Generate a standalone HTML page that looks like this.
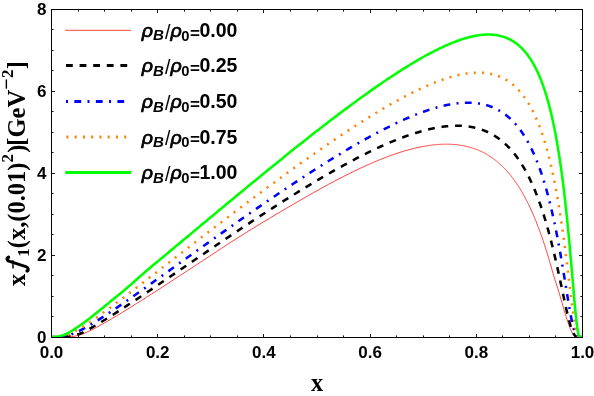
<!DOCTYPE html>
<html><head><meta charset="utf-8"><title>plot</title>
<style>
html,body{margin:0;padding:0;background:#fff;}
body{width:594px;height:396px;overflow:hidden;}
svg{display:block;filter:opacity(1);}
.tk{font-family:"Liberation Sans",sans-serif;font-weight:bold;font-size:17px;fill:#000;}
.lg{font-family:"Liberation Sans",sans-serif;font-weight:bold;font-size:19.5px;fill:#000;}
.ax{font-family:"Liberation Serif",serif;font-weight:bold;font-size:24.5px;fill:#000;}
</style></head><body>
<svg width="594" height="396" viewBox="0 0 594 396">
<rect x="0" y="0" width="594" height="396" fill="#ffffff"/>
<defs><clipPath id="cp"><rect x="51.5" y="9.5" width="531" height="328"/></clipPath></defs>
<g clip-path="url(#cp)" fill="none" stroke-linejoin="round">
<path id="c-red" d="M51.50,337.00 L51.77,337.00 L54.26,337.00 L56.75,337.00 L59.24,336.97 L61.74,336.85 L64.23,336.76 L66.72,336.79 L69.22,336.79 L71.71,336.61 L74.20,336.24 L76.69,335.79 L79.19,335.19 L81.68,334.37 L84.17,333.33 L86.67,332.22 L89.16,331.05 L91.65,329.83 L94.14,328.56 L96.64,327.26 L99.13,325.91 L101.62,324.53 L104.12,323.12 L106.61,321.69 L109.10,320.25 L111.59,318.79 L114.09,317.32 L116.58,315.84 L119.07,314.34 L121.57,312.82 L124.06,311.30 L126.55,309.77 L129.04,308.23 L131.54,306.68 L134.03,305.12 L136.52,303.56 L139.02,301.99 L141.51,300.41 L144.00,298.83 L146.49,297.24 L148.99,295.65 L151.48,294.06 L153.97,292.46 L156.47,290.85 L158.96,289.25 L161.45,287.64 L163.94,286.02 L166.44,284.41 L168.93,282.79 L171.42,281.17 L173.92,279.55 L176.41,277.92 L178.90,276.30 L181.39,274.67 L183.89,273.04 L186.38,271.41 L188.87,269.78 L191.37,268.15 L193.86,266.52 L196.35,264.89 L198.84,263.26 L201.34,261.63 L203.83,259.99 L206.32,258.34 L208.81,256.69 L211.31,255.05 L213.80,253.40 L216.29,251.75 L218.79,250.11 L221.28,248.47 L223.77,246.83 L226.26,245.21 L228.76,243.59 L231.25,241.98 L233.74,240.39 L236.24,238.81 L238.73,237.23 L241.22,235.66 L243.71,234.10 L246.21,232.55 L248.70,231.00 L251.19,229.46 L253.69,227.93 L256.18,226.40 L258.67,224.88 L261.16,223.36 L263.66,221.85 L266.15,220.35 L268.64,218.85 L271.14,217.35 L273.63,215.86 L276.12,214.38 L278.61,212.90 L281.11,211.42 L283.60,209.96 L286.09,208.49 L288.59,207.03 L291.08,205.57 L293.57,204.12 L296.06,202.67 L298.56,201.23 L301.05,199.79 L303.54,198.35 L306.04,196.92 L308.53,195.49 L311.02,194.07 L313.51,192.65 L316.01,191.25 L318.50,189.85 L320.99,188.46 L323.49,187.09 L325.98,185.72 L328.47,184.37 L330.96,183.03 L333.46,181.70 L335.95,180.38 L338.44,179.08 L340.94,177.79 L343.43,176.51 L345.92,175.25 L348.41,174.00 L350.91,172.77 L353.40,171.55 L355.89,170.34 L358.39,169.16 L360.88,167.99 L363.37,166.84 L365.86,165.70 L368.36,164.59 L370.85,163.49 L373.34,162.42 L375.84,161.37 L378.33,160.34 L380.82,159.33 L383.31,158.35 L385.81,157.38 L388.30,156.44 L390.79,155.53 L393.29,154.64 L395.78,153.78 L398.27,152.95 L400.76,152.14 L403.26,151.37 L405.75,150.63 L408.24,149.92 L410.74,149.25 L413.23,148.61 L415.72,148.01 L418.21,147.45 L420.71,146.93 L423.20,146.45 L423.66,146.37 L424.11,146.28 L424.57,146.20 L425.02,146.12 L425.48,146.05 L425.93,145.97 L426.39,145.89 L426.85,145.82 L427.30,145.75 L427.76,145.68 L428.21,145.61 L428.67,145.54 L429.12,145.47 L429.58,145.41 L430.04,145.35 L430.49,145.29 L430.95,145.23 L431.40,145.17 L431.86,145.11 L432.31,145.05 L432.77,145.00 L433.23,144.95 L433.68,144.90 L434.14,144.85 L434.59,144.80 L435.05,144.76 L435.50,144.71 L435.96,144.67 L436.41,144.63 L436.87,144.59 L437.33,144.55 L437.78,144.52 L438.24,144.48 L438.69,144.45 L439.15,144.42 L439.60,144.39 L440.06,144.36 L440.52,144.34 L440.97,144.32 L441.43,144.29 L441.88,144.28 L442.34,144.26 L442.79,144.24 L443.25,144.23 L443.71,144.22 L444.16,144.21 L444.62,144.20 L445.07,144.19 L445.53,144.19 L445.98,144.18 L446.44,144.18 L446.90,144.19 L447.35,144.19 L447.81,144.19 L448.26,144.20 L448.72,144.21 L449.17,144.22 L449.63,144.24 L450.09,144.25 L450.54,144.27 L451.00,144.29 L451.45,144.32 L451.91,144.34 L452.36,144.37 L452.82,144.40 L453.28,144.43 L453.73,144.46 L454.19,144.50 L454.64,144.53 L455.10,144.58 L455.55,144.62 L456.01,144.66 L456.47,144.71 L456.92,144.76 L457.38,144.81 L457.83,144.87 L458.29,144.93 L458.74,144.98 L459.20,145.05 L459.65,145.11 L460.11,145.18 L460.57,145.25 L461.02,145.32 L461.48,145.40 L461.93,145.47 L462.39,145.55 L462.84,145.64 L463.30,145.72 L463.76,145.81 L464.21,145.90 L464.67,146.00 L465.12,146.09 L465.58,146.19 L466.03,146.29 L466.49,146.40 L466.95,146.51 L467.40,146.62 L467.86,146.73 L468.31,146.85 L468.77,146.97 L469.22,147.09 L469.68,147.22 L470.14,147.34 L470.59,147.48 L471.05,147.61 L471.50,147.75 L471.96,147.89 L472.41,148.03 L472.87,148.18 L473.33,148.33 L473.78,148.49 L474.24,148.65 L474.69,148.81 L475.15,148.97 L475.60,149.14 L476.06,149.31 L476.52,149.48 L476.97,149.66 L477.43,149.84 L477.88,150.03 L478.34,150.22 L478.79,150.41 L479.25,150.61 L479.71,150.81 L480.16,151.01 L480.62,151.22 L481.07,151.43 L481.53,151.64 L481.98,151.86 L482.44,152.09 L482.89,152.31 L483.35,152.54 L483.81,152.78 L484.26,153.02 L484.72,153.26 L485.17,153.51 L485.63,153.76 L486.08,154.02 L486.54,154.28 L487.00,154.54 L487.45,154.81 L487.91,155.08 L488.36,155.36 L488.82,155.64 L489.27,155.93 L489.73,156.22 L490.19,156.52 L490.64,156.82 L491.10,157.12 L491.55,157.43 L492.01,157.75 L492.46,158.07 L492.92,158.39 L493.38,158.72 L493.83,159.06 L494.29,159.40 L494.74,159.74 L495.20,160.09 L495.65,160.45 L496.11,160.81 L496.57,161.17 L497.02,161.54 L497.48,161.92 L497.93,162.30 L498.39,162.69 L498.84,163.08 L499.30,163.48 L499.76,163.89 L500.21,164.30 L500.67,164.71 L501.12,165.14 L501.58,165.57 L502.03,166.00 L502.49,166.44 L502.95,166.89 L503.40,167.34 L503.86,167.80 L504.31,168.26 L504.77,168.74 L505.22,169.22 L505.68,169.70 L506.13,170.19 L506.59,170.69 L507.05,171.20 L507.50,171.71 L507.96,172.23 L508.41,172.75 L508.87,173.29 L509.32,173.83 L509.78,174.38 L510.24,174.93 L510.69,175.49 L511.15,176.06 L511.60,176.64 L512.06,177.23 L512.51,177.82 L512.97,178.42 L513.43,179.03 L513.88,179.65 L514.34,180.27 L514.79,180.91 L515.25,181.55 L515.70,182.20 L516.16,182.86 L516.62,183.52 L517.07,184.20 L517.53,184.88 L517.98,185.58 L518.44,186.28 L518.89,186.99 L519.35,187.71 L519.81,188.44 L520.26,189.18 L520.72,189.93 L521.17,190.68 L521.63,191.45 L522.08,192.23 L522.54,193.02 L523.00,193.81 L523.45,194.62 L523.91,195.44 L524.36,196.26 L524.82,197.10 L525.27,197.95 L525.73,198.81 L526.19,199.68 L526.64,200.56 L527.10,201.45 L527.55,202.36 L528.01,203.27 L528.46,204.19 L528.92,205.13 L529.37,206.08 L529.83,207.04 L530.29,208.01 L530.74,208.99 L531.20,209.99 L531.65,211.00 L532.11,212.02 L532.56,213.05 L533.02,214.09 L533.48,215.15 L533.93,216.22 L534.39,217.30 L534.84,218.40 L535.30,219.51 L535.75,220.63 L536.21,221.77 L536.67,222.91 L537.12,224.08 L537.58,225.25 L538.03,226.44 L538.49,227.64 L538.94,228.86 L539.40,230.09 L539.86,231.33 L540.31,232.59 L540.77,233.86 L541.22,235.15 L541.68,236.45 L542.13,237.76 L542.59,239.09 L543.05,240.43 L543.50,241.79 L543.96,243.16 L544.41,244.55 L544.87,245.95 L545.32,247.36 L545.78,248.79 L546.24,250.23 L546.69,251.69 L547.15,253.16 L547.60,254.64 L548.06,256.14 L548.51,257.65 L548.97,259.18 L549.43,260.72 L549.88,262.27 L550.34,263.83 L550.79,265.41 L551.25,267.00 L551.70,268.60 L552.16,270.21 L552.61,271.83 L553.07,273.46 L553.53,275.11 L554.02,276.76 L554.53,278.42 L555.06,280.09 L555.59,281.77 L556.14,283.45 L556.69,285.14 L557.24,286.84 L557.78,288.53 L558.30,290.23 L558.81,291.94 L559.32,293.64 L559.83,295.34 L560.34,297.04 L560.84,298.74 L561.34,300.43 L561.84,302.11 L562.33,303.78 L562.81,305.44 L563.29,307.09 L563.76,308.72 L564.23,310.34 L564.70,311.93 L565.17,313.50 L565.64,315.05 L566.10,316.57 L566.56,318.05 L567.03,319.50 L567.48,320.91 L567.94,322.28 L568.39,323.60 L568.83,324.88 L569.27,326.10 L569.70,327.27 L570.13,328.38 L570.56,329.43 L570.98,330.41 L571.41,331.33 L571.84,332.17 L572.25,332.94 L572.66,333.64 L573.06,334.27 L573.46,334.82 L573.87,335.30 L574.28,335.70 L574.70,336.04 L575.13,336.31 L575.56,336.53 L575.99,336.69 L576.44,336.81 L576.88,336.89 L577.33,336.94 L577.78,336.97 L578.24,336.99 L578.69,337.00 L579.15,337.00 L579.60,337.00 L580.06,337.00 L580.51,337.00 L580.97,337.00 L581.43,337.00 L581.88,337.00 L582.34,337.00 L582.79,337.00 L582.50,337.00" stroke="#ff0000" stroke-width="0.75"/>
<path id="c-black" d="M51.50,337.00 L51.77,337.00 L54.26,337.00 L56.75,337.00 L59.24,336.96 L61.74,336.83 L64.23,336.66 L66.72,336.51 L69.22,336.28 L71.71,335.89 L74.20,335.35 L76.69,334.74 L79.19,333.99 L81.68,333.04 L84.17,331.87 L86.67,330.57 L89.16,329.17 L91.65,327.72 L94.14,326.26 L96.64,324.79 L99.13,323.30 L101.62,321.78 L104.12,320.25 L106.61,318.71 L109.10,317.15 L111.59,315.59 L114.09,314.01 L116.58,312.41 L119.07,310.81 L121.57,309.19 L124.06,307.57 L126.55,305.94 L129.04,304.30 L131.54,302.66 L134.03,301.01 L136.52,299.35 L139.02,297.69 L141.51,296.02 L144.00,294.35 L146.49,292.68 L148.99,291.00 L151.48,289.32 L153.97,287.63 L156.47,285.95 L158.96,284.26 L161.45,282.57 L163.94,280.87 L166.44,279.18 L168.93,277.48 L171.42,275.78 L173.92,274.08 L176.41,272.39 L178.90,270.69 L181.39,268.99 L183.89,267.29 L186.38,265.59 L188.87,263.89 L191.37,262.18 L193.86,260.48 L196.35,258.78 L198.84,257.08 L201.34,255.39 L203.83,253.69 L206.32,251.99 L208.81,250.30 L211.31,248.61 L213.80,246.92 L216.29,245.23 L218.79,243.54 L221.28,241.86 L223.77,240.18 L226.26,238.51 L228.76,236.83 L231.25,235.16 L233.74,233.49 L236.24,231.83 L238.73,230.17 L241.22,228.52 L243.71,226.87 L246.21,225.22 L248.70,223.57 L251.19,221.93 L253.69,220.30 L256.18,218.66 L258.67,217.04 L261.16,215.41 L263.66,213.79 L266.15,212.18 L268.64,210.56 L271.14,208.96 L273.63,207.36 L276.12,205.76 L278.61,204.17 L281.11,202.59 L283.60,201.01 L286.09,199.44 L288.59,197.87 L291.08,196.31 L293.57,194.75 L296.06,193.21 L298.56,191.67 L301.05,190.13 L303.54,188.61 L306.04,187.09 L308.53,185.58 L311.02,184.08 L313.51,182.58 L316.01,181.10 L318.50,179.62 L320.99,178.15 L323.49,176.69 L325.98,175.25 L328.47,173.81 L330.96,172.38 L333.46,170.96 L335.95,169.55 L338.44,168.16 L340.94,166.77 L343.43,165.40 L345.92,164.04 L348.41,162.69 L350.91,161.35 L353.40,160.03 L355.89,158.72 L358.39,157.43 L360.88,156.15 L363.37,154.88 L365.86,153.64 L368.36,152.40 L370.85,151.19 L373.34,149.99 L375.84,148.81 L378.33,147.65 L380.82,146.50 L383.31,145.38 L385.81,144.28 L388.30,143.19 L390.79,142.13 L393.29,141.10 L395.78,140.08 L398.27,139.09 L400.76,138.13 L403.26,137.19 L405.75,136.27 L408.24,135.39 L410.74,134.53 L413.23,133.71 L415.72,132.92 L418.21,132.16 L420.71,131.43 L423.20,130.74 L423.66,130.61 L424.11,130.49 L424.57,130.37 L425.02,130.25 L425.48,130.14 L425.93,130.02 L426.39,129.91 L426.85,129.79 L427.30,129.68 L427.76,129.57 L428.21,129.46 L428.67,129.35 L429.12,129.24 L429.58,129.14 L430.04,129.03 L430.49,128.93 L430.95,128.83 L431.40,128.73 L431.86,128.63 L432.31,128.53 L432.77,128.44 L433.23,128.34 L433.68,128.25 L434.14,128.16 L434.59,128.07 L435.05,127.98 L435.50,127.89 L435.96,127.81 L436.41,127.72 L436.87,127.64 L437.33,127.56 L437.78,127.48 L438.24,127.40 L438.69,127.32 L439.15,127.25 L439.60,127.18 L440.06,127.11 L440.52,127.04 L440.97,126.97 L441.43,126.90 L441.88,126.84 L442.34,126.77 L442.79,126.71 L443.25,126.65 L443.71,126.59 L444.16,126.54 L444.62,126.48 L445.07,126.43 L445.53,126.38 L445.98,126.33 L446.44,126.28 L446.90,126.24 L447.35,126.19 L447.81,126.15 L448.26,126.11 L448.72,126.07 L449.17,126.04 L449.63,126.00 L450.09,125.97 L450.54,125.94 L451.00,125.91 L451.45,125.88 L451.91,125.86 L452.36,125.84 L452.82,125.82 L453.28,125.80 L453.73,125.78 L454.19,125.77 L454.64,125.76 L455.10,125.75 L455.55,125.74 L456.01,125.73 L456.47,125.73 L456.92,125.73 L457.38,125.73 L457.83,125.73 L458.29,125.74 L458.74,125.75 L459.20,125.76 L459.65,125.77 L460.11,125.79 L460.57,125.80 L461.02,125.82 L461.48,125.84 L461.93,125.87 L462.39,125.90 L462.84,125.93 L463.30,125.96 L463.76,125.99 L464.21,126.03 L464.67,126.07 L465.12,126.11 L465.58,126.16 L466.03,126.20 L466.49,126.25 L466.95,126.31 L467.40,126.36 L467.86,126.42 L468.31,126.48 L468.77,126.55 L469.22,126.61 L469.68,126.68 L470.14,126.75 L470.59,126.83 L471.05,126.91 L471.50,126.99 L471.96,127.07 L472.41,127.16 L472.87,127.25 L473.33,127.35 L473.78,127.44 L474.24,127.54 L474.69,127.65 L475.15,127.75 L475.60,127.86 L476.06,127.97 L476.52,128.09 L476.97,128.21 L477.43,128.33 L477.88,128.46 L478.34,128.59 L478.79,128.72 L479.25,128.86 L479.71,129.00 L480.16,129.14 L480.62,129.29 L481.07,129.44 L481.53,129.60 L481.98,129.75 L482.44,129.92 L482.89,130.08 L483.35,130.25 L483.81,130.43 L484.26,130.60 L484.72,130.79 L485.17,130.97 L485.63,131.16 L486.08,131.36 L486.54,131.55 L487.00,131.76 L487.45,131.96 L487.91,132.17 L488.36,132.39 L488.82,132.61 L489.27,132.83 L489.73,133.06 L490.19,133.29 L490.64,133.53 L491.10,133.77 L491.55,134.02 L492.01,134.27 L492.46,134.53 L492.92,134.79 L493.38,135.06 L493.83,135.33 L494.29,135.61 L494.74,135.89 L495.20,136.17 L495.65,136.46 L496.11,136.76 L496.57,137.06 L497.02,137.37 L497.48,137.68 L497.93,138.00 L498.39,138.33 L498.84,138.66 L499.30,138.99 L499.76,139.33 L500.21,139.68 L500.67,140.03 L501.12,140.39 L501.58,140.76 L502.03,141.13 L502.49,141.50 L502.95,141.89 L503.40,142.28 L503.86,142.67 L504.31,143.08 L504.77,143.49 L505.22,143.90 L505.68,144.32 L506.13,144.75 L506.59,145.19 L507.05,145.63 L507.50,146.08 L507.96,146.54 L508.41,147.00 L508.87,147.48 L509.32,147.96 L509.78,148.44 L510.24,148.94 L510.69,149.44 L511.15,149.95 L511.60,150.47 L512.06,150.99 L512.51,151.53 L512.97,152.07 L513.43,152.62 L513.88,153.18 L514.34,153.75 L514.79,154.32 L515.25,154.91 L515.70,155.50 L516.16,156.10 L516.62,156.72 L517.07,157.34 L517.53,157.97 L517.98,158.61 L518.44,159.26 L518.89,159.92 L519.35,160.58 L519.81,161.26 L520.26,161.95 L520.72,162.65 L521.17,163.36 L521.63,164.08 L522.08,164.81 L522.54,165.55 L523.00,166.31 L523.45,167.07 L523.91,167.85 L524.36,168.63 L524.82,169.43 L525.27,170.24 L525.73,171.06 L526.19,171.89 L526.64,172.74 L527.10,173.60 L527.55,174.47 L528.01,175.35 L528.46,176.25 L528.92,177.16 L529.37,178.08 L529.83,179.02 L530.29,179.97 L530.74,180.93 L531.20,181.91 L531.65,182.90 L532.11,183.90 L532.56,184.92 L533.02,185.96 L533.48,187.01 L533.93,188.07 L534.39,189.15 L534.84,190.25 L535.30,191.36 L535.75,192.49 L536.21,193.63 L536.67,194.79 L537.12,195.96 L537.58,197.16 L538.03,198.37 L538.49,199.59 L538.94,200.84 L539.40,202.10 L539.86,203.38 L540.31,204.68 L540.77,205.99 L541.22,207.33 L541.68,208.68 L542.13,210.05 L542.59,211.44 L543.05,212.85 L543.50,214.28 L543.96,215.73 L544.41,217.20 L544.87,218.68 L545.32,220.19 L545.78,221.72 L546.24,223.27 L546.69,224.84 L547.15,226.43 L547.60,228.04 L548.06,229.67 L548.51,231.33 L548.97,233.00 L549.43,234.69 L549.88,236.41 L550.34,238.15 L550.79,239.91 L551.25,241.69 L551.70,243.49 L552.16,245.31 L552.61,247.16 L553.07,249.02 L553.53,250.90 L553.98,252.81 L554.44,254.74 L554.89,256.68 L555.35,258.64 L555.80,260.63 L556.26,262.63 L556.72,264.65 L557.17,266.69 L557.63,268.74 L558.08,270.81 L558.54,272.89 L558.99,274.99 L559.45,277.09 L559.91,279.21 L560.36,281.34 L560.82,283.48 L561.27,285.62 L561.73,287.77 L562.18,289.92 L562.64,292.07 L563.10,294.22 L563.55,296.36 L564.01,298.50 L564.46,300.62 L564.92,302.73 L565.37,304.82 L565.83,306.88 L566.29,308.92 L566.74,310.93 L567.20,312.91 L567.65,314.84 L568.11,316.73 L568.56,318.56 L569.02,320.34 L569.48,322.05 L569.93,323.69 L570.39,325.26 L570.84,326.74 L571.30,328.13 L571.75,329.43 L572.21,330.63 L572.67,331.73 L573.12,332.71 L573.58,333.59 L574.03,334.35 L574.49,335.00 L574.94,335.54 L575.40,335.98 L575.85,336.32 L576.31,336.57 L576.77,336.75 L577.22,336.87 L577.68,336.94 L578.13,336.97 L578.59,336.99 L579.04,337.00 L579.50,337.00 L579.96,337.00 L580.41,337.00 L580.87,337.00 L581.32,337.00 L581.78,337.00 L582.23,337.00 L582.50,337.00" stroke="#000000" stroke-width="2.55" stroke-dasharray="6.8 6.8" stroke-dashoffset="1.3"/>
<path id="c-blue" d="M51.50,337.00 L51.77,337.00 L54.26,337.00 L56.75,336.99 L59.24,336.93 L61.74,336.74 L64.23,336.37 L66.72,335.81 L69.22,335.10 L71.71,334.23 L74.20,333.24 L76.69,332.15 L79.19,330.96 L81.68,329.70 L84.17,328.37 L86.67,326.98 L89.16,325.55 L91.65,324.07 L94.14,322.56 L96.64,321.01 L99.13,319.44 L101.62,317.84 L104.12,316.22 L106.61,314.58 L109.10,312.93 L111.59,311.26 L114.09,309.57 L116.58,307.87 L119.07,306.16 L121.57,304.45 L124.06,302.72 L126.55,300.98 L129.04,299.24 L131.54,297.49 L134.03,295.74 L136.52,293.98 L139.02,292.22 L141.51,290.45 L144.00,288.68 L146.49,286.90 L148.99,285.12 L151.48,283.34 L153.97,281.56 L156.47,279.78 L158.96,277.99 L161.45,276.20 L163.94,274.42 L166.44,272.63 L168.93,270.84 L171.42,269.05 L173.92,267.26 L176.41,265.47 L178.90,263.67 L181.39,261.88 L183.89,260.09 L186.38,258.30 L188.87,256.51 L191.37,254.73 L193.86,252.94 L196.35,251.15 L198.84,249.37 L201.34,247.58 L203.83,245.80 L206.32,244.02 L208.81,242.24 L211.31,240.46 L213.80,238.69 L216.29,236.92 L218.79,235.14 L221.28,233.37 L223.77,231.61 L226.26,229.84 L228.76,228.08 L231.25,226.32 L233.74,224.57 L236.24,222.81 L238.73,221.06 L241.22,219.31 L243.71,217.57 L246.21,215.83 L248.70,214.09 L251.19,212.35 L253.69,210.62 L256.18,208.90 L258.67,207.17 L261.16,205.45 L263.66,203.74 L266.15,202.03 L268.64,200.32 L271.14,198.62 L273.63,196.92 L276.12,195.23 L278.61,193.54 L281.11,191.86 L283.60,190.18 L286.09,188.51 L288.59,186.84 L291.08,185.18 L293.57,183.52 L296.06,181.87 L298.56,180.23 L301.05,178.59 L303.54,176.96 L306.04,175.33 L308.53,173.71 L311.02,172.10 L313.51,170.50 L316.01,168.90 L318.50,167.31 L320.99,165.73 L323.49,164.16 L325.98,162.59 L328.47,161.04 L330.96,159.49 L333.46,157.95 L335.95,156.42 L338.44,154.90 L340.94,153.39 L343.43,151.89 L345.92,150.40 L348.41,148.92 L350.91,147.45 L353.40,146.00 L355.89,144.55 L358.39,143.12 L360.88,141.70 L363.37,140.29 L365.86,138.90 L368.36,137.52 L370.85,136.15 L373.34,134.80 L375.84,133.47 L378.33,132.15 L380.82,130.85 L383.31,129.56 L385.81,128.29 L388.30,127.04 L390.79,125.81 L393.29,124.60 L395.78,123.40 L398.27,122.23 L400.76,121.08 L403.26,119.95 L405.75,118.85 L408.24,117.77 L410.74,116.72 L413.23,115.69 L415.72,114.69 L418.21,113.72 L420.71,112.77 L423.20,111.86 L423.66,111.70 L424.11,111.54 L424.57,111.38 L425.02,111.22 L425.48,111.06 L425.93,110.90 L426.39,110.74 L426.85,110.59 L427.30,110.43 L427.76,110.28 L428.21,110.13 L428.67,109.98 L429.12,109.83 L429.58,109.68 L430.04,109.53 L430.49,109.39 L430.95,109.24 L431.40,109.10 L431.86,108.96 L432.31,108.81 L432.77,108.67 L433.23,108.54 L433.68,108.40 L434.14,108.26 L434.59,108.13 L435.05,108.00 L435.50,107.86 L435.96,107.73 L436.41,107.60 L436.87,107.48 L437.33,107.35 L437.78,107.22 L438.24,107.10 L438.69,106.98 L439.15,106.86 L439.60,106.74 L440.06,106.62 L440.52,106.50 L440.97,106.39 L441.43,106.27 L441.88,106.16 L442.34,106.05 L442.79,105.94 L443.25,105.83 L443.71,105.73 L444.16,105.62 L444.62,105.52 L445.07,105.42 L445.53,105.32 L445.98,105.22 L446.44,105.12 L446.90,105.03 L447.35,104.93 L447.81,104.84 L448.26,104.75 L448.72,104.66 L449.17,104.58 L449.63,104.49 L450.09,104.41 L450.54,104.33 L451.00,104.25 L451.45,104.17 L451.91,104.09 L452.36,104.02 L452.82,103.94 L453.28,103.87 L453.73,103.81 L454.19,103.74 L454.64,103.67 L455.10,103.61 L455.55,103.55 L456.01,103.49 L456.47,103.43 L456.92,103.38 L457.38,103.32 L457.83,103.27 L458.29,103.22 L458.74,103.18 L459.20,103.13 L459.65,103.09 L460.11,103.05 L460.57,103.01 L461.02,102.97 L461.48,102.94 L461.93,102.91 L462.39,102.88 L462.84,102.85 L463.30,102.83 L463.76,102.80 L464.21,102.78 L464.67,102.76 L465.12,102.75 L465.58,102.73 L466.03,102.72 L466.49,102.71 L466.95,102.71 L467.40,102.70 L467.86,102.70 L468.31,102.70 L468.77,102.71 L469.22,102.72 L469.68,102.72 L470.14,102.74 L470.59,102.75 L471.05,102.77 L471.50,102.79 L471.96,102.81 L472.41,102.84 L472.87,102.86 L473.33,102.90 L473.78,102.93 L474.24,102.97 L474.69,103.01 L475.15,103.05 L475.60,103.09 L476.06,103.14 L476.52,103.20 L476.97,103.25 L477.43,103.31 L477.88,103.37 L478.34,103.43 L478.79,103.50 L479.25,103.57 L479.71,103.65 L480.16,103.72 L480.62,103.81 L481.07,103.89 L481.53,103.98 L481.98,104.07 L482.44,104.16 L482.89,104.26 L483.35,104.37 L483.81,104.47 L484.26,104.58 L484.72,104.69 L485.17,104.81 L485.63,104.93 L486.08,105.06 L486.54,105.18 L487.00,105.32 L487.45,105.45 L487.91,105.59 L488.36,105.74 L488.82,105.89 L489.27,106.04 L489.73,106.20 L490.19,106.36 L490.64,106.52 L491.10,106.69 L491.55,106.87 L492.01,107.05 L492.46,107.23 L492.92,107.42 L493.38,107.61 L493.83,107.81 L494.29,108.01 L494.74,108.22 L495.20,108.43 L495.65,108.65 L496.11,108.87 L496.57,109.10 L497.02,109.33 L497.48,109.57 L497.93,109.81 L498.39,110.06 L498.84,110.32 L499.30,110.58 L499.76,110.84 L500.21,111.11 L500.67,111.39 L501.12,111.67 L501.58,111.96 L502.03,112.25 L502.49,112.55 L502.95,112.86 L503.40,113.17 L503.86,113.49 L504.31,113.81 L504.77,114.14 L505.22,114.48 L505.68,114.82 L506.13,115.18 L506.59,115.53 L507.05,115.90 L507.50,116.27 L507.96,116.65 L508.41,117.03 L508.87,117.43 L509.32,117.83 L509.78,118.24 L510.24,118.65 L510.69,119.07 L511.15,119.50 L511.60,119.94 L512.06,120.39 L512.51,120.84 L512.97,121.31 L513.43,121.78 L513.88,122.26 L514.34,122.75 L514.79,123.25 L515.25,123.75 L515.70,124.27 L516.16,124.79 L516.62,125.32 L517.07,125.87 L517.53,126.42 L517.98,126.98 L518.44,127.55 L518.89,128.14 L519.35,128.73 L519.81,129.33 L520.26,129.94 L520.72,130.57 L521.17,131.20 L521.63,131.85 L522.08,132.50 L522.54,133.17 L523.00,133.85 L523.45,134.54 L523.91,135.24 L524.36,135.96 L524.82,136.68 L525.27,137.42 L525.73,138.17 L526.19,138.94 L526.64,139.72 L527.10,140.51 L527.55,141.31 L528.01,142.13 L528.46,142.96 L528.92,143.81 L529.37,144.67 L529.83,145.54 L530.29,146.43 L530.74,147.33 L531.20,148.25 L531.65,149.19 L532.11,150.14 L532.56,151.11 L533.02,152.09 L533.48,153.09 L533.93,154.10 L534.39,155.14 L534.84,156.19 L535.30,157.26 L535.75,158.35 L536.21,159.45 L536.67,160.58 L537.12,161.72 L537.58,162.88 L538.03,164.06 L538.49,165.27 L538.94,166.49 L539.40,167.73 L539.86,168.99 L540.31,170.28 L540.77,171.59 L541.22,172.91 L541.68,174.27 L542.13,175.64 L542.59,177.04 L543.05,178.46 L543.50,179.90 L543.96,181.37 L544.41,182.87 L544.87,184.38 L545.32,185.93 L545.78,187.50 L546.24,189.10 L546.69,190.72 L547.15,192.37 L547.60,194.05 L548.06,195.76 L548.51,197.49 L548.97,199.25 L549.43,201.05 L549.88,202.87 L550.34,204.72 L550.79,206.60 L551.25,208.52 L551.70,210.46 L552.16,212.44 L552.61,214.44 L553.07,216.48 L553.53,218.55 L553.98,220.66 L554.44,222.80 L554.89,224.97 L555.35,227.17 L555.80,229.41 L556.26,231.68 L556.72,233.98 L557.17,236.32 L557.63,238.69 L558.08,241.09 L558.54,243.53 L558.99,246.00 L559.45,248.50 L559.91,251.03 L560.36,253.59 L560.82,256.18 L561.27,258.80 L561.73,261.45 L562.18,264.13 L562.64,266.83 L563.10,269.55 L563.55,272.29 L564.01,275.05 L564.46,277.83 L564.92,280.62 L565.37,283.42 L565.83,286.22 L566.29,289.03 L566.74,291.83 L567.20,294.62 L567.65,297.40 L568.11,300.15 L568.56,302.88 L569.02,305.57 L569.48,308.22 L569.93,310.81 L570.39,313.34 L570.84,315.80 L571.30,318.17 L571.75,320.45 L572.21,322.61 L572.67,324.66 L573.12,326.57 L573.58,328.34 L574.03,329.95 L574.49,331.39 L574.94,332.66 L575.40,333.76 L575.85,334.67 L576.31,335.40 L576.77,335.97 L577.22,336.38 L577.68,336.67 L578.13,336.84 L578.59,336.94 L579.04,336.98 L579.50,337.00 L579.96,337.00 L580.41,337.00 L580.87,337.00 L581.32,337.00 L581.78,337.00 L582.23,337.00 L582.50,337.00" stroke="#0000ff" stroke-width="2.55" stroke-dasharray="2 6.35 6.8 6.36" stroke-dashoffset="1.3"/>
<path id="c-orange" d="M51.50,337.00 L51.77,337.00 L54.26,337.00 L56.75,336.98 L59.24,336.85 L61.74,336.50 L64.23,335.91 L66.72,335.11 L69.22,334.13 L71.71,333.00 L74.20,331.75 L76.69,330.39 L79.19,328.95 L81.68,327.45 L84.17,325.88 L86.67,324.26 L89.16,322.60 L91.65,320.91 L94.14,319.19 L96.64,317.44 L99.13,315.66 L101.62,313.87 L104.12,312.06 L106.61,310.23 L109.10,308.40 L111.59,306.55 L114.09,304.68 L116.58,302.82 L119.07,300.94 L121.57,299.05 L124.06,297.16 L126.55,295.26 L129.04,293.36 L131.54,291.45 L134.03,289.54 L136.52,287.63 L139.02,285.71 L141.51,283.79 L144.00,281.87 L146.49,279.95 L148.99,278.02 L151.48,276.09 L153.97,274.17 L156.47,272.24 L158.96,270.31 L161.45,268.38 L163.94,266.45 L166.44,264.52 L168.93,262.58 L171.42,260.65 L173.92,258.72 L176.41,256.79 L178.90,254.86 L181.39,252.94 L183.89,251.01 L186.38,249.08 L188.87,247.15 L191.37,245.23 L193.86,243.31 L196.35,241.38 L198.84,239.46 L201.34,237.54 L203.83,235.62 L206.32,233.71 L208.81,231.79 L211.31,229.88 L213.80,227.97 L216.29,226.06 L218.79,224.16 L221.28,222.25 L223.77,220.35 L226.26,218.45 L228.76,216.55 L231.25,214.66 L233.74,212.77 L236.24,210.88 L238.73,208.99 L241.22,207.11 L243.71,205.23 L246.21,203.35 L248.70,201.47 L251.19,199.60 L253.69,197.73 L256.18,195.87 L258.67,194.01 L261.16,192.15 L263.66,190.30 L266.15,188.45 L268.64,186.60 L271.14,184.76 L273.63,182.92 L276.12,181.09 L278.61,179.26 L281.11,177.44 L283.60,175.62 L286.09,173.80 L288.59,171.99 L291.08,170.18 L293.57,168.38 L296.06,166.59 L298.56,164.80 L301.05,163.01 L303.54,161.24 L306.04,159.46 L308.53,157.70 L311.02,155.94 L313.51,154.18 L316.01,152.43 L318.50,150.69 L320.99,148.96 L323.49,147.23 L325.98,145.51 L328.47,143.80 L330.96,142.09 L333.46,140.40 L335.95,138.71 L338.44,137.03 L340.94,135.35 L343.43,133.69 L345.92,132.04 L348.41,130.39 L350.91,128.76 L353.40,127.13 L355.89,125.52 L358.39,123.92 L360.88,122.32 L363.37,120.74 L365.86,119.17 L368.36,117.62 L370.85,116.07 L373.34,114.54 L375.84,113.02 L378.33,111.52 L380.82,110.02 L383.31,108.55 L385.81,107.09 L388.30,105.64 L390.79,104.22 L393.29,102.81 L395.78,101.41 L398.27,100.04 L400.76,98.68 L403.26,97.35 L405.75,96.03 L408.24,94.74 L410.74,93.47 L413.23,92.22 L415.72,90.99 L418.21,89.79 L420.71,88.62 L423.20,87.48 L423.66,87.27 L424.11,87.06 L424.57,86.86 L425.02,86.66 L425.48,86.45 L425.93,86.25 L426.39,86.05 L426.85,85.85 L427.30,85.65 L427.76,85.46 L428.21,85.26 L428.67,85.07 L429.12,84.87 L429.58,84.68 L430.04,84.49 L430.49,84.29 L430.95,84.10 L431.40,83.92 L431.86,83.73 L432.31,83.54 L432.77,83.36 L433.23,83.17 L433.68,82.99 L434.14,82.81 L434.59,82.62 L435.05,82.44 L435.50,82.27 L435.96,82.09 L436.41,81.91 L436.87,81.74 L437.33,81.56 L437.78,81.39 L438.24,81.22 L438.69,81.05 L439.15,80.88 L439.60,80.71 L440.06,80.55 L440.52,80.38 L440.97,80.22 L441.43,80.05 L441.88,79.89 L442.34,79.73 L442.79,79.58 L443.25,79.42 L443.71,79.26 L444.16,79.11 L444.62,78.96 L445.07,78.80 L445.53,78.65 L445.98,78.50 L446.44,78.36 L446.90,78.21 L447.35,78.07 L447.81,77.93 L448.26,77.78 L448.72,77.64 L449.17,77.51 L449.63,77.37 L450.09,77.23 L450.54,77.10 L451.00,76.97 L451.45,76.84 L451.91,76.71 L452.36,76.58 L452.82,76.46 L453.28,76.33 L453.73,76.21 L454.19,76.09 L454.64,75.97 L455.10,75.85 L455.55,75.74 L456.01,75.63 L456.47,75.51 L456.92,75.40 L457.38,75.30 L457.83,75.19 L458.29,75.09 L458.74,74.98 L459.20,74.88 L459.65,74.78 L460.11,74.69 L460.57,74.59 L461.02,74.50 L461.48,74.41 L461.93,74.32 L462.39,74.23 L462.84,74.15 L463.30,74.06 L463.76,73.98 L464.21,73.91 L464.67,73.83 L465.12,73.75 L465.58,73.68 L466.03,73.61 L466.49,73.54 L466.95,73.48 L467.40,73.42 L467.86,73.35 L468.31,73.30 L468.77,73.24 L469.22,73.19 L469.68,73.13 L470.14,73.08 L470.59,73.04 L471.05,72.99 L471.50,72.95 L471.96,72.91 L472.41,72.88 L472.87,72.84 L473.33,72.81 L473.78,72.78 L474.24,72.75 L474.69,72.73 L475.15,72.71 L475.60,72.69 L476.06,72.68 L476.52,72.66 L476.97,72.65 L477.43,72.65 L477.88,72.64 L478.34,72.64 L478.79,72.64 L479.25,72.65 L479.71,72.66 L480.16,72.67 L480.62,72.68 L481.07,72.70 L481.53,72.72 L481.98,72.74 L482.44,72.77 L482.89,72.80 L483.35,72.83 L483.81,72.87 L484.26,72.91 L484.72,72.95 L485.17,73.00 L485.63,73.05 L486.08,73.11 L486.54,73.16 L487.00,73.23 L487.45,73.29 L487.91,73.36 L488.36,73.43 L488.82,73.51 L489.27,73.59 L489.73,73.68 L490.19,73.76 L490.64,73.86 L491.10,73.95 L491.55,74.05 L492.01,74.16 L492.46,74.27 L492.92,74.38 L493.38,74.50 L493.83,74.62 L494.29,74.75 L494.74,74.88 L495.20,75.02 L495.65,75.16 L496.11,75.30 L496.57,75.45 L497.02,75.61 L497.48,75.77 L497.93,75.93 L498.39,76.10 L498.84,76.28 L499.30,76.46 L499.76,76.64 L500.21,76.83 L500.67,77.03 L501.12,77.23 L501.58,77.44 L502.03,77.65 L502.49,77.87 L502.95,78.10 L503.40,78.33 L503.86,78.56 L504.31,78.80 L504.77,79.05 L505.22,79.31 L505.68,79.57 L506.13,79.84 L506.59,80.11 L507.05,80.39 L507.50,80.68 L507.96,80.97 L508.41,81.27 L508.87,81.58 L509.32,81.89 L509.78,82.22 L510.24,82.54 L510.69,82.88 L511.15,83.23 L511.60,83.58 L512.06,83.94 L512.51,84.30 L512.97,84.68 L513.43,85.06 L513.88,85.46 L514.34,85.86 L514.79,86.26 L515.25,86.68 L515.70,87.11 L516.16,87.54 L516.62,87.99 L517.07,88.44 L517.53,88.90 L517.98,89.38 L518.44,89.86 L518.89,90.35 L519.35,90.85 L519.81,91.36 L520.26,91.89 L520.72,92.42 L521.17,92.96 L521.63,93.52 L522.08,94.08 L522.54,94.66 L523.00,95.25 L523.45,95.85 L523.91,96.46 L524.36,97.09 L524.82,97.72 L525.27,98.37 L525.73,99.03 L526.19,99.71 L526.64,100.40 L527.10,101.10 L527.55,101.81 L528.01,102.54 L528.46,103.28 L528.92,104.04 L529.37,104.81 L529.83,105.60 L530.29,106.40 L530.74,107.22 L531.20,108.06 L531.65,108.91 L532.11,109.77 L532.56,110.66 L533.02,111.56 L533.48,112.47 L533.93,113.41 L534.39,114.36 L534.84,115.34 L535.30,116.33 L535.75,117.34 L536.21,118.37 L536.67,119.42 L537.12,120.49 L537.58,121.58 L538.03,122.69 L538.49,123.83 L538.94,124.98 L539.40,126.16 L539.86,127.37 L540.31,128.59 L540.77,129.84 L541.22,131.12 L541.68,132.41 L542.13,133.74 L542.59,135.09 L543.05,136.47 L543.50,137.87 L543.96,139.30 L544.41,140.76 L544.87,142.25 L545.32,143.77 L545.78,145.32 L546.24,146.90 L546.69,148.52 L547.15,150.16 L547.60,151.84 L548.06,153.55 L548.51,155.29 L548.97,157.07 L549.43,158.89 L549.88,160.74 L550.34,162.63 L550.79,164.56 L551.25,166.52 L551.70,168.53 L552.16,170.58 L552.61,172.66 L553.07,174.80 L553.53,176.97 L553.98,179.19 L554.44,181.45 L554.89,183.76 L555.35,186.11 L555.80,188.51 L556.26,190.96 L556.72,193.46 L557.17,196.01 L557.63,198.61 L558.08,201.26 L558.54,203.96 L558.99,206.71 L559.45,209.52 L559.91,212.38 L560.36,215.30 L560.82,218.27 L561.27,221.30 L561.73,224.38 L562.18,227.52 L562.64,230.71 L563.10,233.95 L563.55,237.26 L564.01,240.61 L564.46,244.02 L564.92,247.48 L565.37,250.99 L565.83,254.54 L566.29,258.14 L566.74,261.78 L567.20,265.46 L567.65,269.17 L568.11,272.91 L568.56,276.67 L569.02,280.45 L569.48,284.23 L569.93,288.01 L570.39,291.78 L570.84,295.51 L571.30,299.21 L571.75,302.86 L572.21,306.43 L572.67,309.91 L573.12,313.27 L573.58,316.50 L574.03,319.57 L574.49,322.45 L574.94,325.12 L575.40,327.54 L575.85,329.71 L576.31,331.59 L576.77,333.17 L577.22,334.45 L577.68,335.43 L578.13,336.12 L578.59,336.57 L579.04,336.83 L579.50,336.95 L579.96,336.99 L580.41,337.00 L580.87,337.00 L581.32,337.00 L581.78,337.00 L582.23,337.00 L582.50,337.00" stroke="#ff8000" stroke-width="2.55" stroke-dasharray="2 6.25" stroke-dashoffset="0"/>
<path id="c-green" d="M51.50,337.00 L51.77,337.00 L54.26,336.99 L56.75,336.75 L59.24,336.20 L61.74,335.66 L64.23,334.73 L66.72,333.58 L69.22,332.27 L71.71,330.82 L74.20,329.29 L76.69,327.69 L79.19,326.01 L81.68,324.26 L84.17,322.45 L86.67,320.61 L89.16,318.72 L91.65,316.80 L94.14,314.83 L96.64,312.83 L99.13,310.81 L101.62,308.76 L104.12,306.71 L106.61,304.66 L109.10,302.62 L111.59,300.59 L114.09,298.56 L116.58,296.53 L119.07,294.49 L121.57,292.45 L124.06,290.39 L126.55,288.30 L129.04,286.13 L131.54,283.92 L134.03,281.68 L136.52,279.48 L139.02,277.30 L141.51,275.12 L144.00,272.94 L146.49,270.79 L148.99,268.67 L151.48,266.59 L153.97,264.51 L156.47,262.43 L158.96,260.36 L161.45,258.28 L163.94,256.20 L166.44,254.13 L168.93,252.05 L171.42,249.97 L173.92,247.90 L176.41,245.82 L178.90,243.74 L181.39,241.66 L183.89,239.59 L186.38,237.51 L188.87,235.43 L191.37,233.36 L193.86,231.28 L196.35,229.20 L198.84,227.13 L201.34,225.05 L203.83,222.97 L206.32,220.90 L208.81,218.82 L211.31,216.75 L213.80,214.68 L216.29,212.61 L218.79,210.54 L221.28,208.47 L223.77,206.40 L226.26,204.34 L228.76,202.27 L231.25,200.21 L233.74,198.15 L236.24,196.09 L238.73,194.04 L241.22,191.98 L243.71,189.93 L246.21,187.88 L248.70,185.83 L251.19,183.78 L253.69,181.73 L256.18,179.69 L258.67,177.65 L261.16,175.61 L263.66,173.58 L266.15,171.54 L268.64,169.51 L271.14,167.48 L273.63,165.45 L276.12,163.43 L278.61,161.40 L281.11,159.39 L283.60,157.37 L286.09,155.36 L288.59,153.35 L291.08,151.35 L293.57,149.35 L296.06,147.36 L298.56,145.37 L301.05,143.38 L303.54,141.41 L306.04,139.43 L308.53,137.47 L311.02,135.51 L313.51,133.55 L316.01,131.61 L318.50,129.67 L320.99,127.73 L323.49,125.81 L325.98,123.89 L328.47,121.97 L330.96,120.07 L333.46,118.17 L335.95,116.27 L338.44,114.39 L340.94,112.51 L343.43,110.64 L345.92,108.77 L348.41,106.92 L350.91,105.07 L353.40,103.24 L355.89,101.41 L358.39,99.59 L360.88,97.78 L363.37,95.98 L365.86,94.20 L368.36,92.42 L370.85,90.65 L373.34,88.90 L375.84,87.15 L378.33,85.42 L380.82,83.71 L383.31,82.00 L385.81,80.31 L388.30,78.63 L390.79,76.97 L393.29,75.33 L395.78,73.70 L398.27,72.08 L400.76,70.48 L403.26,68.91 L405.75,67.34 L408.24,65.80 L410.74,64.28 L413.23,62.78 L415.72,61.30 L418.21,59.85 L420.71,58.41 L423.20,57.01 L423.66,56.75 L424.11,56.50 L424.57,56.24 L425.02,55.99 L425.48,55.74 L425.93,55.49 L426.39,55.24 L426.85,54.99 L427.30,54.74 L427.76,54.50 L428.21,54.25 L428.67,54.01 L429.12,53.76 L429.58,53.52 L430.04,53.28 L430.49,53.04 L430.95,52.80 L431.40,52.56 L431.86,52.32 L432.31,52.08 L432.77,51.85 L433.23,51.61 L433.68,51.38 L434.14,51.15 L434.59,50.91 L435.05,50.68 L435.50,50.45 L435.96,50.23 L436.41,50.00 L436.87,49.77 L437.33,49.55 L437.78,49.32 L438.24,49.10 L438.69,48.88 L439.15,48.66 L439.60,48.44 L440.06,48.22 L440.52,48.00 L440.97,47.78 L441.43,47.57 L441.88,47.35 L442.34,47.14 L442.79,46.93 L443.25,46.72 L443.71,46.51 L444.16,46.30 L444.62,46.10 L445.07,45.89 L445.53,45.69 L445.98,45.48 L446.44,45.28 L446.90,45.08 L447.35,44.88 L447.81,44.69 L448.26,44.49 L448.72,44.30 L449.17,44.10 L449.63,43.91 L450.09,43.72 L450.54,43.53 L451.00,43.34 L451.45,43.16 L451.91,42.97 L452.36,42.79 L452.82,42.61 L453.28,42.43 L453.73,42.25 L454.19,42.07 L454.64,41.90 L455.10,41.72 L455.55,41.55 L456.01,41.38 L456.47,41.21 L456.92,41.04 L457.38,40.88 L457.83,40.71 L458.29,40.55 L458.74,40.39 L459.20,40.23 L459.65,40.07 L460.11,39.92 L460.57,39.76 L461.02,39.61 L461.48,39.46 L461.93,39.31 L462.39,39.16 L462.84,39.02 L463.30,38.87 L463.76,38.73 L464.21,38.59 L464.67,38.46 L465.12,38.32 L465.58,38.19 L466.03,38.06 L466.49,37.93 L466.95,37.80 L467.40,37.67 L467.86,37.55 L468.31,37.43 L468.77,37.31 L469.22,37.19 L469.68,37.08 L470.14,36.96 L470.59,36.85 L471.05,36.74 L471.50,36.64 L471.96,36.53 L472.41,36.43 L472.87,36.33 L473.33,36.24 L473.78,36.14 L474.24,36.05 L474.69,35.96 L475.15,35.87 L475.60,35.79 L476.06,35.71 L476.52,35.63 L476.97,35.55 L477.43,35.48 L477.88,35.40 L478.34,35.33 L478.79,35.27 L479.25,35.20 L479.71,35.14 L480.16,35.09 L480.62,35.03 L481.07,34.98 L481.53,34.93 L481.98,34.88 L482.44,34.84 L482.89,34.80 L483.35,34.76 L483.81,34.72 L484.26,34.69 L484.72,34.66 L485.17,34.64 L485.63,34.62 L486.08,34.60 L486.54,34.58 L487.00,34.57 L487.45,34.56 L487.91,34.56 L488.36,34.56 L488.82,34.56 L489.27,34.56 L489.73,34.57 L490.19,34.58 L490.64,34.60 L491.10,34.62 L491.55,34.64 L492.01,34.67 L492.46,34.70 L492.92,34.74 L493.38,34.78 L493.83,34.82 L494.29,34.87 L494.74,34.92 L495.20,34.98 L495.65,35.04 L496.11,35.10 L496.57,35.17 L497.02,35.24 L497.48,35.32 L497.93,35.40 L498.39,35.49 L498.84,35.58 L499.30,35.68 L499.76,35.78 L500.21,35.89 L500.67,36.00 L501.12,36.11 L501.58,36.24 L502.03,36.36 L502.49,36.49 L502.95,36.63 L503.40,36.77 L503.86,36.92 L504.31,37.07 L504.77,37.23 L505.22,37.40 L505.68,37.57 L506.13,37.75 L506.59,37.93 L507.05,38.12 L507.50,38.31 L507.96,38.52 L508.41,38.72 L508.87,38.94 L509.32,39.16 L509.78,39.39 L510.24,39.62 L510.69,39.86 L511.15,40.11 L511.60,40.37 L512.06,40.63 L512.51,40.90 L512.97,41.18 L513.43,41.46 L513.88,41.75 L514.34,42.05 L514.79,42.36 L515.25,42.68 L515.70,43.01 L516.16,43.34 L516.62,43.68 L517.07,44.03 L517.53,44.39 L517.98,44.76 L518.44,45.14 L518.89,45.52 L519.35,45.92 L519.81,46.33 L520.26,46.74 L520.72,47.17 L521.17,47.61 L521.63,48.05 L522.08,48.51 L522.54,48.98 L523.00,49.46 L523.45,49.95 L523.91,50.45 L524.36,50.96 L524.82,51.48 L525.27,52.02 L525.73,52.57 L526.19,53.13 L526.64,53.71 L527.10,54.29 L527.55,54.89 L528.01,55.51 L528.46,56.13 L528.92,56.77 L529.37,57.43 L529.83,58.10 L530.29,58.79 L530.74,59.49 L531.20,60.20 L531.65,60.93 L532.11,61.68 L532.56,62.45 L533.02,63.23 L533.48,64.03 L533.93,64.84 L534.39,65.68 L534.84,66.53 L535.30,67.40 L535.75,68.29 L536.21,69.20 L536.67,70.13 L537.12,71.08 L537.58,72.05 L538.03,73.05 L538.49,74.06 L538.94,75.10 L539.40,76.16 L539.86,77.24 L540.31,78.35 L540.77,79.48 L541.22,80.64 L541.68,81.82 L542.13,83.03 L542.59,84.27 L543.05,85.53 L543.50,86.82 L543.96,88.15 L544.41,89.50 L544.87,90.88 L545.32,92.29 L545.78,93.74 L546.24,95.22 L546.69,96.73 L547.15,98.28 L547.60,99.86 L548.06,101.48 L548.51,103.14 L548.97,104.83 L549.43,106.57 L549.88,108.34 L550.34,110.16 L550.79,112.02 L551.25,113.93 L551.70,115.88 L552.16,117.87 L552.61,119.91 L553.07,122.01 L553.53,124.15 L553.98,126.35 L554.44,128.59 L554.89,130.90 L555.35,133.26 L555.80,135.67 L556.26,138.15 L556.72,140.69 L557.17,143.29 L557.63,145.95 L558.08,148.68 L558.54,151.48 L558.99,154.36 L559.45,157.30 L559.91,160.31 L560.36,163.41 L560.82,166.58 L561.27,169.83 L561.73,173.16 L562.18,176.58 L562.64,180.08 L563.10,183.67 L563.55,187.35 L564.01,191.12 L564.46,194.99 L564.92,198.95 L565.37,203.01 L565.83,207.16 L566.29,211.42 L566.74,215.77 L567.20,220.22 L567.65,224.78 L568.11,229.43 L568.56,234.17 L569.02,239.01 L569.48,243.95 L569.93,248.96 L570.39,254.06 L570.84,259.23 L571.30,264.46 L571.75,269.74 L572.21,275.06 L572.67,280.39 L573.12,285.72 L573.58,291.01 L574.03,296.24 L574.49,301.37 L574.94,306.36 L575.40,311.15 L575.85,315.70 L576.31,319.94 L576.77,323.82 L577.22,327.25 L577.68,330.19 L578.13,332.59 L578.59,334.42 L579.04,335.69 L579.50,336.46 L579.96,336.84 L580.41,336.97 L580.87,337.00 L581.32,337.00 L581.78,337.00 L582.23,337.00 L582.50,337.00" stroke="#00ff00" stroke-width="2.55"/>
</g>
<rect x="51.5" y="9.5" width="531.0" height="328.0" fill="none" stroke="#000" stroke-width="1"/>
<path d="M51.50,337.5v-3.5M51.50,9.5v3.5M78.50,337.5v-2.1M78.50,9.5v2.1M104.50,337.5v-2.1M104.50,9.5v2.1M131.50,337.5v-2.1M131.50,9.5v2.1M157.50,337.5v-3.5M157.50,9.5v3.5M184.50,337.5v-2.1M184.50,9.5v2.1M210.50,337.5v-2.1M210.50,9.5v2.1M237.50,337.5v-2.1M237.50,9.5v2.1M263.50,337.5v-3.5M263.50,9.5v3.5M290.50,337.5v-2.1M290.50,9.5v2.1M317.50,337.5v-2.1M317.50,9.5v2.1M343.50,337.5v-2.1M343.50,9.5v2.1M370.50,337.5v-3.5M370.50,9.5v3.5M396.50,337.5v-2.1M396.50,9.5v2.1M423.50,337.5v-2.1M423.50,9.5v2.1M449.50,337.5v-2.1M449.50,9.5v2.1M476.50,337.5v-3.5M476.50,9.5v3.5M502.50,337.5v-2.1M502.50,9.5v2.1M529.50,337.5v-2.1M529.50,9.5v2.1M555.50,337.5v-2.1M555.50,9.5v2.1M582.50,337.5v-3.5M582.50,9.5v3.5M51.5,337.50h3.5M582.5,337.50h-3.5M51.5,316.50h2.1M582.5,316.50h-2.1M51.5,296.50h2.1M582.5,296.50h-2.1M51.5,275.50h2.1M582.5,275.50h-2.1M51.5,255.50h3.5M582.5,255.50h-3.5M51.5,234.50h2.1M582.5,234.50h-2.1M51.5,214.50h2.1M582.5,214.50h-2.1M51.5,193.50h2.1M582.5,193.50h-2.1M51.5,173.50h3.5M582.5,173.50h-3.5M51.5,152.50h2.1M582.5,152.50h-2.1M51.5,132.50h2.1M582.5,132.50h-2.1M51.5,111.50h2.1M582.5,111.50h-2.1M51.5,91.50h3.5M582.5,91.50h-3.5M51.5,70.50h2.1M582.5,70.50h-2.1M51.5,50.50h2.1M582.5,50.50h-2.1M51.5,29.50h2.1M582.5,29.50h-2.1M51.5,9.50h3.5M582.5,9.50h-3.5" stroke="#000" stroke-width="0.9" fill="none"/>
<text class="tk" x="51.5" y="357.5" text-anchor="middle">0.0</text>
<text class="tk" x="157.7" y="357.5" text-anchor="middle">0.2</text>
<text class="tk" x="263.9" y="357.5" text-anchor="middle">0.4</text>
<text class="tk" x="370.1" y="357.5" text-anchor="middle">0.6</text>
<text class="tk" x="476.3" y="357.5" text-anchor="middle">0.8</text>
<text class="tk" x="582.5" y="357.5" text-anchor="middle">1.0</text>
<text class="tk" x="46.5" y="343.2" text-anchor="end">0</text>
<text class="tk" x="46.5" y="261.2" text-anchor="end">2</text>
<text class="tk" x="46.5" y="179.2" text-anchor="end">4</text>
<text class="tk" x="46.5" y="97.2" text-anchor="end">6</text>
<text class="tk" x="46.5" y="15.2" text-anchor="end">8</text>
<text class="ax" x="317" y="390.5" text-anchor="middle">x</text>
<g transform="translate(24.5,173.5) rotate(-90)"><text class="ax" x="-112.4" y="0">x</text><g transform="translate(-93.2,-0.9)" fill="none" stroke="#000" stroke-linecap="round"><path d="M9.6,-15.2C8.8,-17.2 6.4,-17.2 5.3,-14.0L0.1,2.2C-0.9,5.0 -3.3,5.3 -4.3,3.7" stroke-width="3.0"/><circle cx="9.4" cy="-15.0" r="0.9" stroke-width="1.4"/><circle cx="-4.1" cy="3.4" r="0.9" stroke-width="1.4"/><path d="M-1.9,-10.6H6.5" stroke-width="1.5" stroke-linecap="butt"/></g><text class="ax" x="-83.25" y="0"><tspan font-size="17" dy="4">1</tspan><tspan dy="-4">(x,(0.01)</tspan><tspan font-size="17" dy="-12">2</tspan><tspan dy="12" dx="1.3">)</tspan><tspan dx="-1.1">[GeV</tspan><tspan font-size="20" dy="-12">−</tspan><tspan font-size="17" dx="0.4">2</tspan><tspan dy="12" dx="0.2">]</tspan></text></g>
<path d="M65.2,30.3H131.1" stroke="#ff0000" stroke-width="0.75" fill="none"/>
<text class="lg" transform="translate(141.70,37.20) scale(1.1,1)" style="font-size:17.8px;font-style:italic;font-weight:normal;stroke:#000;stroke-width:0.7px;">ρ</text>
<text class="lg" transform="translate(152.90,40.40) scale(1.0,1)" style="font-size:15px;font-style:italic;">B</text>
<text class="lg" transform="translate(164.90,38.70) scale(1.0,1)" style="font-size:19.5px;font-weight:normal;">/</text>
<text class="lg" transform="translate(170.40,37.20) scale(1.1,1)" style="font-size:17.8px;font-style:italic;font-weight:normal;stroke:#000;stroke-width:0.7px;">ρ</text>
<text class="lg" transform="translate(181.20,40.60) scale(1.0,1)" style="font-size:14.8px;">0</text>
<text class="lg" transform="translate(189.90,38.70) scale(1.0,1)" style="font-size:17px;">=</text>
<text class="lg" transform="translate(199.40,36.90) scale(1.0,1)" style="font-size:19.5px;">0.00</text>
<path d="M66.0,65.5H127.5" stroke="#000000" stroke-width="3.0" stroke-dasharray="6.8 6.8" fill="none"/>
<text class="lg" transform="translate(141.70,72.40) scale(1.1,1)" style="font-size:17.8px;font-style:italic;font-weight:normal;stroke:#000;stroke-width:0.7px;">ρ</text>
<text class="lg" transform="translate(152.90,75.60) scale(1.0,1)" style="font-size:15px;font-style:italic;">B</text>
<text class="lg" transform="translate(164.90,73.90) scale(1.0,1)" style="font-size:19.5px;font-weight:normal;">/</text>
<text class="lg" transform="translate(170.40,72.40) scale(1.1,1)" style="font-size:17.8px;font-style:italic;font-weight:normal;stroke:#000;stroke-width:0.7px;">ρ</text>
<text class="lg" transform="translate(181.20,75.80) scale(1.0,1)" style="font-size:14.8px;">0</text>
<text class="lg" transform="translate(189.90,73.90) scale(1.0,1)" style="font-size:17px;">=</text>
<text class="lg" transform="translate(199.40,72.10) scale(1.0,1)" style="font-size:19.5px;">0.25</text>
<path d="M66.0,101.5H125.5" stroke="#0000ff" stroke-width="3.0" stroke-dasharray="2 6.35 6.8 6.36" fill="none"/>
<text class="lg" transform="translate(141.70,108.40) scale(1.1,1)" style="font-size:17.8px;font-style:italic;font-weight:normal;stroke:#000;stroke-width:0.7px;">ρ</text>
<text class="lg" transform="translate(152.90,111.60) scale(1.0,1)" style="font-size:15px;font-style:italic;">B</text>
<text class="lg" transform="translate(164.90,109.90) scale(1.0,1)" style="font-size:19.5px;font-weight:normal;">/</text>
<text class="lg" transform="translate(170.40,108.40) scale(1.1,1)" style="font-size:17.8px;font-style:italic;font-weight:normal;stroke:#000;stroke-width:0.7px;">ρ</text>
<text class="lg" transform="translate(181.20,111.80) scale(1.0,1)" style="font-size:14.8px;">0</text>
<text class="lg" transform="translate(189.90,109.90) scale(1.0,1)" style="font-size:17px;">=</text>
<text class="lg" transform="translate(199.40,108.10) scale(1.0,1)" style="font-size:19.5px;">0.50</text>
<path d="M66.4,137H128.5" stroke="#ff8000" stroke-width="3.0" stroke-dasharray="2 6.25" fill="none"/>
<text class="lg" transform="translate(141.70,143.90) scale(1.1,1)" style="font-size:17.8px;font-style:italic;font-weight:normal;stroke:#000;stroke-width:0.7px;">ρ</text>
<text class="lg" transform="translate(152.90,147.10) scale(1.0,1)" style="font-size:15px;font-style:italic;">B</text>
<text class="lg" transform="translate(164.90,145.40) scale(1.0,1)" style="font-size:19.5px;font-weight:normal;">/</text>
<text class="lg" transform="translate(170.40,143.90) scale(1.1,1)" style="font-size:17.8px;font-style:italic;font-weight:normal;stroke:#000;stroke-width:0.7px;">ρ</text>
<text class="lg" transform="translate(181.20,147.30) scale(1.0,1)" style="font-size:14.8px;">0</text>
<text class="lg" transform="translate(189.90,145.40) scale(1.0,1)" style="font-size:17px;">=</text>
<text class="lg" transform="translate(199.40,143.60) scale(1.0,1)" style="font-size:19.5px;">0.75</text>
<path d="M65.2,172.4H131.1" stroke="#00ff00" stroke-width="3.0" fill="none"/>
<text class="lg" transform="translate(141.70,179.30) scale(1.1,1)" style="font-size:17.8px;font-style:italic;font-weight:normal;stroke:#000;stroke-width:0.7px;">ρ</text>
<text class="lg" transform="translate(152.90,182.50) scale(1.0,1)" style="font-size:15px;font-style:italic;">B</text>
<text class="lg" transform="translate(164.90,180.80) scale(1.0,1)" style="font-size:19.5px;font-weight:normal;">/</text>
<text class="lg" transform="translate(170.40,179.30) scale(1.1,1)" style="font-size:17.8px;font-style:italic;font-weight:normal;stroke:#000;stroke-width:0.7px;">ρ</text>
<text class="lg" transform="translate(181.20,182.70) scale(1.0,1)" style="font-size:14.8px;">0</text>
<text class="lg" transform="translate(189.90,180.80) scale(1.0,1)" style="font-size:17px;">=</text>
<text class="lg" transform="translate(199.40,179.00) scale(1.0,1)" style="font-size:19.5px;">1.00</text>
</svg></body></html>
